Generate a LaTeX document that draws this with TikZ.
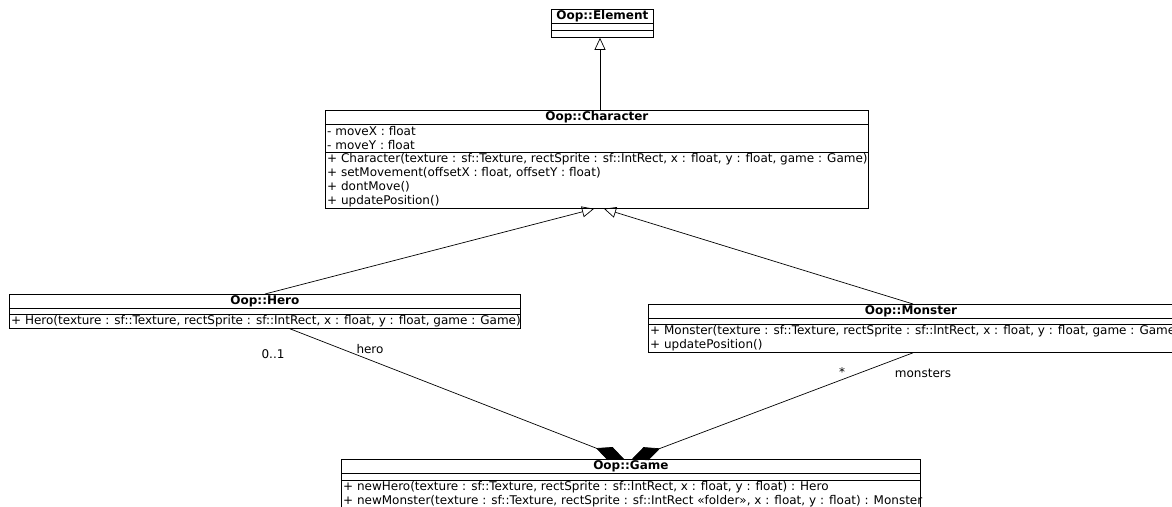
\documentclass[tikz,border=0pt]{standalone}
\usepackage{fontspec}
\setmainfont{DejaVu Sans}
\usetikzlibrary{arrows.meta,calc}
\begin{document}
\begin{tikzpicture}[x=1pt,y=-1pt,
  classbox/.style={draw,line width=0.8pt,inner sep=0pt,anchor=north west},
  ttl/.style={font=\fontsize{12}{14}\selectfont\bfseries,inner sep=0pt},
  mem/.style={font=\fontsize{12}{14}\selectfont,inner sep=0pt,anchor=west},
  lbl/.style={font=\fontsize{12}{14}\selectfont,inner sep=0pt},
  gen/.style={line width=0.7pt,-{Triangle[open,length=12pt,width=11pt]}},
  comp/.style={line width=0.7pt,-{Diamond[length=30pt,width=14pt]}}]
\useasboundingbox (0,0) rectangle (1172,506);
\clip (0,0) rectangle (1172,506);
% Element
\node[classbox,minimum width=102pt,minimum height=28pt] (elem) at (551,9) {};
\node[ttl] at ($(elem.north)+(0,7)$) {Oop::Element};
\draw[line width=0.8pt] ($(elem.north west)+(0,14)$) -- ($(elem.north east)+(0,14)$);
\draw[line width=0.8pt] ($(elem.north west)+(0,21)$) -- ($(elem.north east)+(0,21)$);
% Character
\node[classbox,minimum width=543pt,minimum height=98pt] (char) at (325,110) {};
\node[ttl] at ($(char.north)+(0,7)$) {Oop::Character};
\draw[line width=0.8pt] ($(char.north west)+(0,14)$) -- ($(char.north east)+(0,14)$);
\draw[line width=0.8pt] ($(char.north west)+(0,42)$) -- ($(char.north east)+(0,42)$);
\node[mem] at ($(char.north west)+(2,21)$) {- moveX : float};
\node[mem] at ($(char.north west)+(2,35)$) {- moveY : float};
\node[mem] at ($(char.north west)+(2,49)$) {+ Character(texture : sf::Texture, rectSprite : sf::IntRect, x : float, y : float, game : Game)};
\node[mem] at ($(char.north west)+(2,63)$) {+ setMovement(offsetX : float, offsetY : float)};
\node[mem] at ($(char.north west)+(2,77)$) {+ dontMove()};
\node[mem] at ($(char.north west)+(2,91)$) {+ updatePosition()};
% Hero
\node[classbox,minimum width=511pt,minimum height=34pt] (hero) at (9,294) {};
\node[ttl] at ($(hero.north)+(0,7)$) {Oop::Hero};
\draw[line width=0.8pt] ($(hero.north west)+(0,14)$) -- ($(hero.north east)+(0,14)$);
\draw[line width=0.8pt] ($(hero.north west)+(0,20)$) -- ($(hero.north east)+(0,20)$);
\node[mem] at ($(hero.north west)+(2,27)$) {+ Hero(texture : sf::Texture, rectSprite : sf::IntRect, x : float, y : float, game : Game)};
% Monster
\node[classbox,minimum width=530pt,minimum height=48pt] (mon) at (648,304) {};
\node[ttl] at ($(mon.north west)+(263,7)$) {Oop::Monster};
\draw[line width=0.8pt] ($(mon.north west)+(0,14)$) -- ($(mon.north east)+(0,14)$);
\draw[line width=0.8pt] ($(mon.north west)+(0,20)$) -- ($(mon.north east)+(0,20)$);
\node[mem] at ($(mon.north west)+(2,27)$) {+ Monster(texture : sf::Texture, rectSprite : sf::IntRect, x : float, y : float, game : Game)};
\node[mem] at ($(mon.north west)+(2,41)$) {+ updatePosition()};
% Game
\node[classbox,minimum width=579pt,minimum height=70pt] (game) at (341,459) {};
\node[ttl] at ($(game.north)+(0,7)$) {Oop::Game};
\draw[line width=0.8pt] ($(game.north west)+(0,14)$) -- ($(game.north east)+(0,14)$);
\draw[line width=0.8pt] ($(game.north west)+(0,21)$) -- ($(game.north east)+(0,21)$);
\node[mem] at ($(game.north west)+(2,28)$) {+ newHero(texture : sf::Texture, rectSprite : sf::IntRect, x : float, y : float) : Hero};
\node[mem] at ($(game.north west)+(2,42)$) {+ newMonster(texture : sf::Texture, rectSprite : sf::IntRect «folder», x : float, y : float) : Monster};
% generalizations
\draw[gen] ($(char.north west)+(275,0)$) -- ($(elem.south west)+(49,0)$);
\draw[gen] ($(hero.north west)+(256,0)$) -- ($(char.south west)+(269,0)$);
\draw[gen] ($(mon.north west)+(265,0)$) -- ($(char.south west)+(279,0)$);
% compositions
\draw[comp] ($(hero.south west)+(281,0)$) -- ($(game.north west)+(283,0)$);
\draw[comp] ($(mon.south west)+(265,0)$) -- ($(game.north west)+(291,0)$);
% labels
\node[lbl] (m1) at (273,354) {0..1};
\node[lbl] (r1) at (370,349) {hero};
\node[lbl] (m2) at (842,372) {*};
\node[lbl] (r2) at (923,373) {monsters};
\end{tikzpicture}
\end{document}
